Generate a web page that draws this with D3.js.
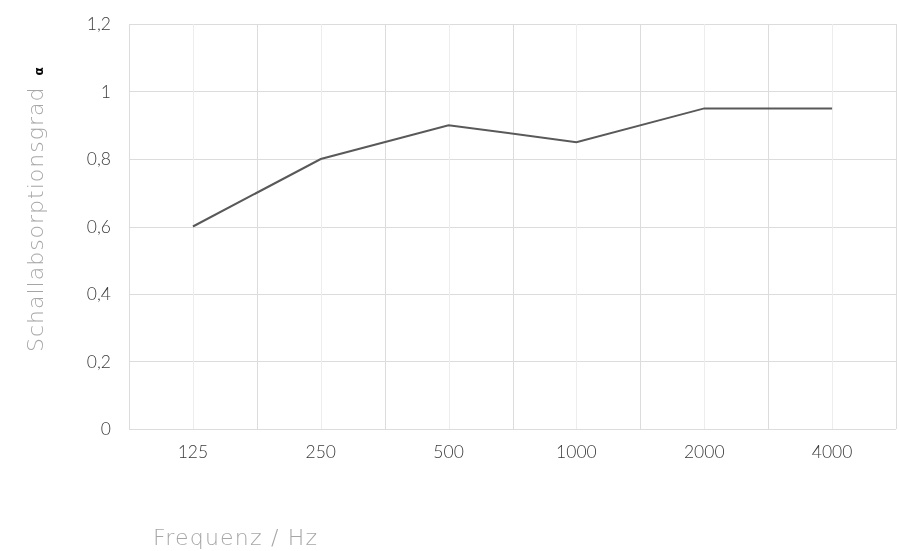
<!DOCTYPE html>
<html><head><meta charset="utf-8">
<script src="https://cdn.jsdelivr.net/npm/d3@7"></script>
<style>
body{margin:0;background:#fff;}
svg{display:block;font-family:Lato,"Open Sans",sans-serif;will-change:transform;}
</style></head>
<body><svg id="c" width="899" height="551"></svg>
<script>
const categories = ["125","250","500","1000","2000","4000"];
const values = [0.6, 0.8, 0.9, 0.85, 0.95, 0.95];
const yTicks = [0, 0.2, 0.4, 0.6, 0.8, 1, 1.2];

const svg = d3.select("#c");
const m = {left:129, right:896, top:24, bottom:429};
const x = d3.scaleBand().domain(categories).range([m.left, m.right]);
const y = d3.scaleLinear().domain([0, 1.2]).range([m.bottom, m.top]);
const fmt = v => String(+v.toFixed(1)).replace(".", ",");

svg.append("g").selectAll("line").data(yTicks).join("line")
  .attr("x1", m.left).attr("x2", m.right)
  .attr("y1", d => Math.round(y(d))+0.5).attr("y2", d => Math.round(y(d))+0.5)
  .attr("stroke", "#dcdcdc").attr("stroke-width", 1);
svg.append("g").selectAll("line").data(categories).join("line")
  .attr("x1", d => Math.round(x(d)+x.bandwidth()/2)+0.5)
  .attr("x2", d => Math.round(x(d)+x.bandwidth()/2)+0.5)
  .attr("y1", m.top).attr("y2", m.bottom)
  .attr("stroke", "#ededed").attr("stroke-width", 1);
const bounds = categories.map(c => x(c)).concat([x.range()[1]]);
svg.append("g").selectAll("line").data(bounds).join("line")
  .attr("x1", d => Math.round(d)+0.5).attr("x2", d => Math.round(d)+0.5)
  .attr("y1", m.top).attr("y2", m.bottom)
  .attr("stroke", "#dcdcdc").attr("stroke-width", 1);

svg.append("g").selectAll("text").data(yTicks).join("text")
  .attr("x", 111).attr("y", d => y(d)).attr("dy", "0.35em")
  .attr("text-anchor", "end").attr("font-size", 17.5).attr("font-weight", 300)
  .attr("fill", "#3a3a3a").text(fmt);
svg.append("g").selectAll("text").data(categories).join("text")
  .attr("x", d => x(d)+x.bandwidth()/2).attr("y", 458)
  .attr("text-anchor", "middle").attr("font-size", 17.5).attr("font-weight", 300)
  .attr("fill", "#3a3a3a").text(d => d);

const line = d3.line().x((d,i) => x(categories[i])+x.bandwidth()/2).y(d => y(d));
svg.append("path").datum(values).attr("d", line)
  .attr("fill", "none").attr("stroke", "#595959").attr("stroke-width", 2);

const yt = svg.append("text").attr("transform", "translate(43,352) rotate(-90)")
  .attr("font-family", "'DejaVu Sans', sans-serif")
  .attr("font-size", 22).attr("fill", "#a6a6a6").attr("letter-spacing", 1)
  .attr("font-weight", 200);
yt.append("tspan").text("Schallabsorptionsgrad ");
yt.append("tspan").text("α").attr("dx", 3).attr("fill", "#000").attr("font-weight", 700).attr("font-size", 12);

svg.append("text").attr("x", 153).attr("y", 545)
  .attr("font-family", "'DejaVu Sans', sans-serif")
  .attr("font-size", 22).attr("fill", "#a6a6a6").attr("letter-spacing", 1.2)
  .attr("font-weight", 200).text("Frequenz / Hz");
</script></body></html>
